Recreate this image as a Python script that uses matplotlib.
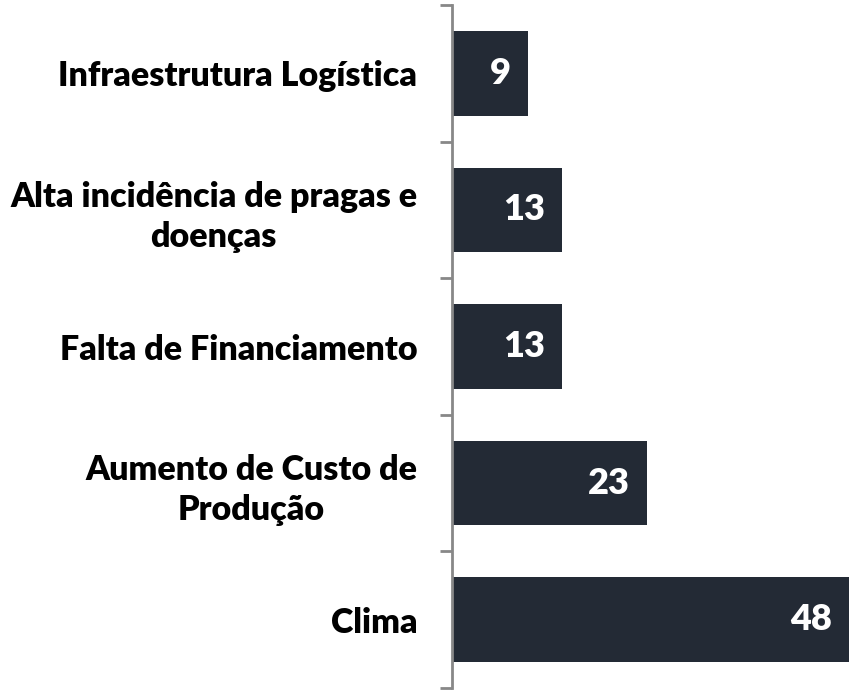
import matplotlib
matplotlib.use("Agg")
import matplotlib.pyplot as plt

categories = ["Clima", "Aumento de Custo de\nProdução", "Falta de Financiamento",
              "Alta incidência de pragas e\ndoenças", "Infraestrutura Logística"]
values = [48, 23, 13, 13, 9]
value_labels = ["48", "23", "13", "13", "9"]

bar_color = "#232a35"
W, H = 849, 690
fig = plt.figure(figsize=(W / 100, H / 100), dpi=100)
ax = fig.add_axes([452 / W, (H - 688) / H, (W - 452) / W, (688 - 5) / H])

ypos = list(range(len(categories)))
ax.barh(ypos, values, height=0.62, color=bar_color, zorder=2)
xmax = (W - 452) / 8.48
ax.set_xlim(0, xmax)
ax.set_ylim(-0.5, len(categories) - 0.5)

font = "Lato"
for y, v, lab in zip(ypos, values, value_labels):
    xv = min(v, xmax)
    ax.annotate(lab, xy=(xv, y), xytext=(-17, 0), textcoords="offset pixels",
                ha="right", va="center", color="white", fontsize=26,
                fontweight="heavy", family=font)

ax.set_yticks([i - 0.5 for i in range(len(categories) + 1)], minor=False)
ax.set_yticklabels([])
ax.tick_params(axis="y", which="major", length=9, width=2, color="#888888", direction="out")
ax.set_yticks(ypos, minor=True)
ax.set_yticklabels(categories, minor=True, fontsize=24.5, fontweight="heavy",
                   family=font)
for t in ax.get_yticklabels(minor=True):
    t.set_multialignment("center")
    t.set_linespacing(1.32)
ax.tick_params(axis="y", which="minor", length=0, pad=25)
ax.set_xticks([])
for s in ["top", "right", "bottom"]:
    ax.spines[s].set_visible(False)
ax.spines["left"].set_color("#888888")
ax.spines["left"].set_linewidth(2)

fig.savefig("out.png", dpi=100)
